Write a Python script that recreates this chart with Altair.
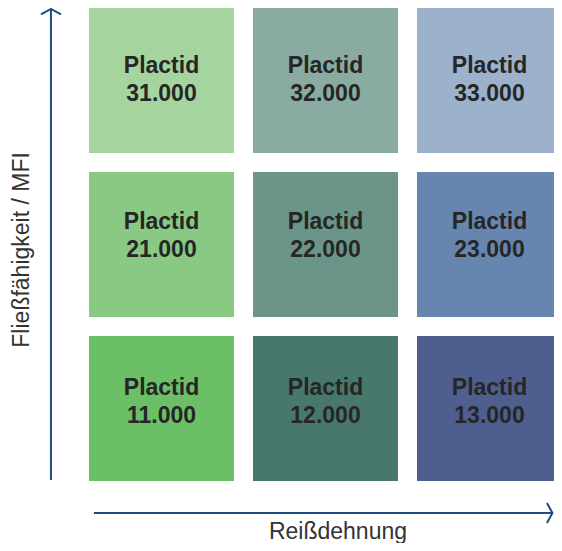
import altair as alt
import pandas as pd

# ---- data ----
product = "Plactid"
grades = ["11.000", "12.000", "13.000",
          "21.000", "22.000", "23.000",
          "31.000", "32.000", "33.000"]
col_idx = [0, 1, 2, 0, 1, 2, 0, 1, 2]   # Reißdehnung level
row_idx = [0, 0, 0, 1, 1, 1, 2, 2, 2]   # MFI level
cell_colors = ["#6bbf67", "#48786c", "#4e5f8f",
               "#89c983", "#6a9588", "#6786af",
               "#a5d49f", "#89aba2", "#9bb1cc"]
x_title = "Reißdehnung"
y_title = "Fließfähigkeit / MFI"

# ---- layout (scale units: one grid pitch = 1) ----
CELL = 145 / 164
XDOM = [-0.4939, 2.8354]
YDOM = [-0.378, 2.884]
ARROW = "#1f4b82"
ROW_TEXT_LIFT = {0: 6 / 164, 1: 8 / 164, 2: 0.0}

cells = pd.DataFrame({
    "label": [f"{product}\n{g}" for g in grades],
    "c": col_idx, "r": row_idx, "color": cell_colors,
})
cells["x0"] = cells["c"]
cells["x1"] = cells["c"] + CELL
cells["y0"] = cells["r"]
cells["y1"] = cells["r"] + CELL
cells["xc"] = cells["c"] + CELL / 2
cells["yc"] = cells["r"] + CELL / 2 + cells["r"].map(ROW_TEXT_LIFT)

xs = alt.Scale(domain=XDOM, nice=False, zero=False)
ys = alt.Scale(domain=YDOM, nice=False, zero=False)

rects = alt.Chart(cells).mark_rect(clip=True).encode(
    x=alt.X("x0:Q", scale=xs, axis=None), x2="x1:Q",
    y=alt.Y("y0:Q", scale=ys, axis=None), y2="y1:Q",
    color=alt.Color("color:N", scale=None),
)
texts = alt.Chart(cells).mark_text(
    font="Liberation Sans", fontSize=23, fontWeight="bold", color="#262626",
    lineBreak="\n", lineHeight=28, baseline="middle", align="center", dy=-14,
).encode(x=alt.X("xc:Q", scale=xs), y=alt.Y("yc:Q", scale=ys), text="label:N")

lines = pd.DataFrame({
    "x": [0.03, -0.232], "x2": [2.826, -0.232],
    "y": [-0.195, 0.006], "y2": [-0.195, 2.872],
})
rules = alt.Chart(lines).mark_rule(color=ARROW, strokeWidth=2).encode(
    x=alt.X("x:Q", scale=xs), x2="x2:Q",
    y=alt.Y("y:Q", scale=ys), y2="y2:Q",
)
heads = pd.DataFrame({
    "x": [2.826, -0.232], "y": [-0.195, 2.878],
    "shape": ["M-0.55,-1L0,0L-0.55,1", "M-1,0.55L0,0L1,0.55"],
})
arrowheads = alt.Chart(heads).mark_point(
    filled=False, color=ARROW, strokeWidth=2, size=400, opacity=1,
).encode(
    x=alt.X("x:Q", scale=xs), y=alt.Y("y:Q", scale=ys),
    shape=alt.Shape("shape:N", scale=None),
)

titles = pd.DataFrame({
    "t": [x_title, y_title], "x": [1.518, -0.41], "y": [-0.311, 1.409],
    "a": [0, 270],
})
title_marks = alt.Chart(titles).mark_text(
    font="Liberation Sans", fontSize=23, color="#333333",
    baseline="middle", align="center",
).encode(
    x=alt.X("x:Q", scale=xs), y=alt.Y("y:Q", scale=ys), text="t:N",
    angle=alt.Angle("a:Q", scale=None),
)

chart = alt.layer(rects, texts, rules, arrowheads, title_marks).properties(
    width=546, height=535, padding=0,
    autosize=alt.AutoSizeParams(type="none"), background="white",
).configure_view(stroke=None)

chart.save("out.html", embed_options={"renderer": "svg", "actions": False})
